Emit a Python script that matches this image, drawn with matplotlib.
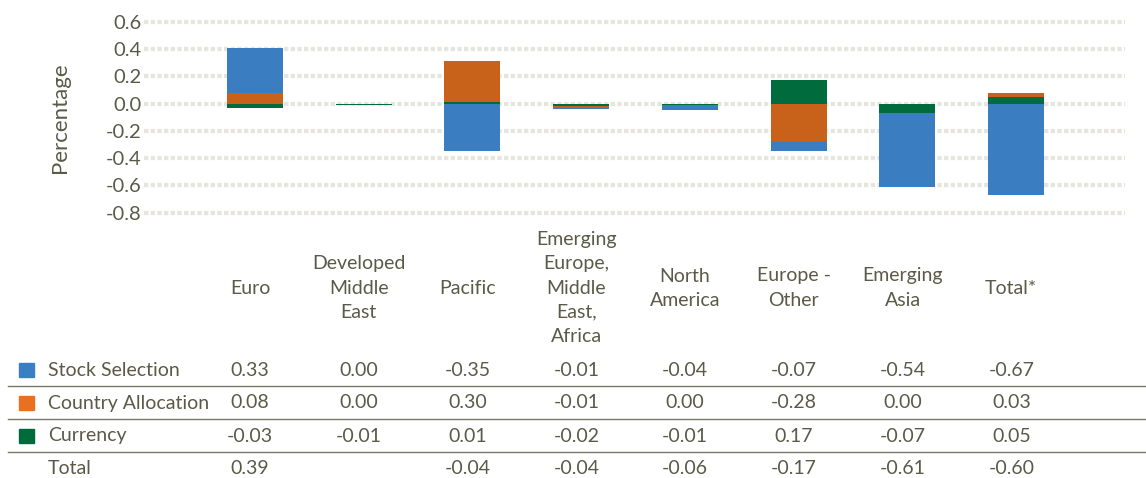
import numpy as np
import matplotlib.pyplot as plt
from matplotlib.transforms import blended_transform_factory
from matplotlib.patches import Rectangle
from matplotlib.lines import Line2D

regions = ["Euro", "Developed\nMiddle\nEast", "Pacific",
           "Emerging\nEurope,\nMiddle\nEast,\nAfrica", "North\nAmerica",
           "Europe -\nOther", "Emerging\nAsia", "Total*"]
stock = [0.33, 0.00, -0.35, -0.01, -0.04, -0.07, -0.54, -0.67]
country = [0.08, 0.00, 0.30, -0.01, 0.00, -0.28, 0.00, 0.03]
currency = [-0.03, -0.01, 0.01, -0.02, -0.01, 0.17, -0.07, 0.05]
totals = [0.39, None, -0.04, -0.04, -0.06, -0.17, -0.61, -0.60]
yticks = [-0.8, -0.6, -0.4, -0.2, 0.0, 0.2, 0.4, 0.6]

text_col = "#5a5a48"
bar_cols = {"Stock Selection": "#3a7ec1", "Country Allocation": "#c8621a", "Currency": "#006b3c"}
key_cols = {"Stock Selection": "#3a7fc4", "Country Allocation": "#e87022", "Currency": "#006a3a"}

plt.rcParams['font.family'] = ['Lato', 'DejaVu Sans']

W, H = 1146, 478
fig = plt.figure(figsize=(W / 100, H / 100), dpi=100)

def fy(py):
    return 1 - py / H

# plot area in pixels
left, right = 144, 1125
top, bottom = 14.9, 219.5
ax = fig.add_axes([left / W, fy(bottom), (right - left) / W, (bottom - top) / H])

x = np.arange(len(regions))
# Excel stacks currency first, then country, then stock; positives up, negatives down
pos = np.zeros(len(regions))
neg = np.zeros(len(regions))
for name, vals in [("Currency", currency), ("Country Allocation", country), ("Stock Selection", stock)]:
    v = np.array(vals)
    base = np.where(v >= 0, pos, neg)
    ax.bar(x, v, bottom=base, width=0.515, color=bar_cols[name], zorder=3)
    pos = pos + np.where(v >= 0, v, 0)
    neg = neg + np.where(v < 0, v, 0)

ax.set_xlim(-1.02, 8.0)
ax.set_ylim(-0.85, 0.65)
ax.set_yticks(yticks)
ax.set_yticklabels([f"{t:.1f}" for t in yticks])
ax.set_xticks([])
for s in ax.spines.values():
    s.set_visible(False)
ax.tick_params(axis='y', length=0, pad=2, labelsize=14.5, labelcolor=text_col)
ax.yaxis.grid(True, color="#e6e6df", linewidth=3, linestyle=(0, (1.05, 0.55)), zorder=0)
ax.set_ylabel("Percentage", fontsize=16, color=text_col)
ax.yaxis.set_label_coords((70 - left) / (right - left), 0.5)

# data table below the chart
tr = blended_transform_factory(ax.transData, fig.transFigure)
dx = -0.045
fs = 14
for i, lab in enumerate(regions):
    fig.text(i + dx, fy(288), lab, transform=tr, ha='center', va='center',
             fontsize=fs, color=text_col, linespacing=1.5)

rows = [("Stock Selection", stock), ("Country Allocation", country), ("Currency", currency)]
row_y = [370, 403, 436, 468]
for (name, vals), py in zip(rows, row_y):
    fig.patches.append(Rectangle((19 / W, fy(py + 7)), 15 / W, 14 / H,
                                 transform=fig.transFigure, color=key_cols[name]))
    fig.text(48 / W, fy(py), name, ha='left', va='center', fontsize=fs, color=text_col)
    for i, v in enumerate(vals):
        fig.text(i + dx, fy(py), f"{v:.2f}", transform=tr, ha='center', va='center',
                 fontsize=fs, color=text_col)

fig.text(48 / W, fy(row_y[3]), "Total", ha='left', va='center', fontsize=fs, color=text_col)
for i, v in enumerate(totals):
    if v is not None:
        fig.text(i + dx, fy(row_y[3]), f"{v:.2f}", transform=tr, ha='center', va='center',
                 fontsize=fs, color=text_col)

for py in [386, 419, 452]:
    fig.lines.append(Line2D([8 / W, 1.0], [fy(py), fy(py)], transform=fig.transFigure,
                            color="#77776a", linewidth=1.0))

fig.savefig("out.png", dpi=100)
